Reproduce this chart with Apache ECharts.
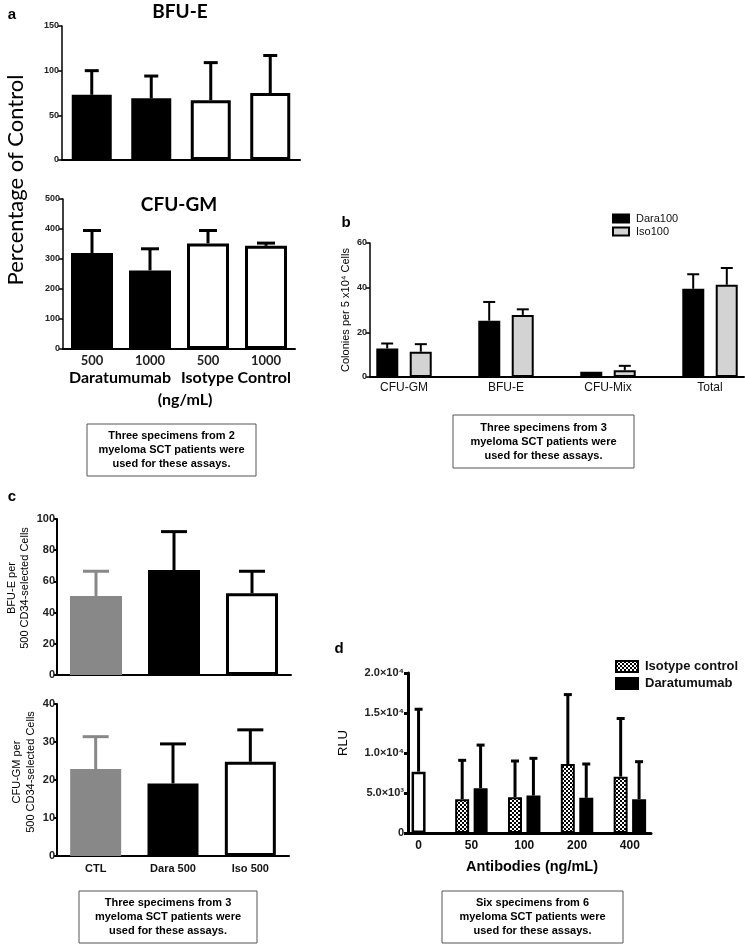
<!DOCTYPE html>
<html><head><meta charset="utf-8">
<script src="https://cdn.jsdelivr.net/npm/echarts@6/dist/echarts.min.js"></script>
<style>html,body{margin:0;padding:0;background:#fff}#c{width:745px;height:944px}</style>
</head><body><div id="c"></div>
<script>
// ---------- Panel a ----------
const aCats = ['500', '1000', '500', '1000'];
const aBfuMean = [73, 69, 67, 75];
const aBfuErr = [27, 25, 42, 42];
const aGmMean = [320, 262, 352, 344];
const aGmErr = [75, 72, 43, 9];
// ---------- Panel b ----------
const bCats = ['CFU-GM', 'BFU-E', 'CFU-Mix', 'Total'];
const bDaraMean = [12.8, 25.2, 2.4, 39.5];
const bDaraErr = [2.2, 8.4, 0, 6.5];
const bIsoMean = [11.3, 27.8, 3.0, 41.3];
const bIsoErr = [3.4, 2.5, 2.0, 7.5];
// ---------- Panel c ----------
const cCats = ['CTL', 'Dara 500', 'Iso 500'];
const cBfuMean = [50.6, 67.3, 52.4];
const cBfuErr = [15.9, 24.6, 14.1];
const cGmMean = [22.9, 19.1, 24.8];
const cGmErr = [8.5, 10.4, 8.4];
// ---------- Panel d ----------
const dCats = ['0', '50', '100', '200', '400'];
const dCtrlMean = [7670, null, null, null, null];
const dCtrlErr = [7800, null, null, null, null];
const dIsoMean = [null, 4230, 4480, 8625, 7045];
const dIsoErr = [null, 4855, 4520, 8675, 7265];
const dDaraMean = [null, 5600, 4680, 4395, 4230];
const dDaraErr = [null, 5390, 4655, 4230, 4685];
const dTickLabels = ['0', '5.0\u00d710\u00b3', '1.0\u00d710\u2074', '1.5\u00d710\u2074', '2.0\u00d710\u2074'];

const FA = 'Lato, "Open Sans", sans-serif';
const F = '"Liberation Sans", Arial, Helvetica, sans-serif';

// padded category helpers (blank slots keep the original spacing of the figure)
function padCats(cats, lead, step, total) {
  const out = new Array(total).fill('');
  cats.forEach((c, i) => { out[lead + i * step] = c; });
  return out;
}
function padVals(vals, lead, step, total) {
  const out = new Array(total).fill('-');
  vals.forEach((v, i) => { if (v != null) out[lead + i * step] = v; });
  return out;
}
function errPts(means, errs, lead, step) {
  const pts = [];
  means.forEach((m, i) => { if (m != null) pts.push([lead + i * step, m, errs[i]]); });
  return pts;
}

function errSeries(xi, yi, pts, offset, colors, lw, cap) {
  return {
    type: 'custom', xAxisIndex: xi, yAxisIndex: yi, z: 1, silent: true,
    data: pts, encode: { x: 0, y: 1 },
    renderItem: function (params, api) {
      const x = api.value(0), m = api.value(1), e = api.value(2);
      if (!e) return { type: 'group', children: [] };
      const p0 = api.coord([x, m]), p1 = api.coord([x, m + e]);
      const cx = p0[0] + offset;
      const col = colors[params.dataIndex] || colors[0];
      return {
        type: 'group', children: [
          { type: 'line', shape: { x1: cx, y1: p0[1], x2: cx, y2: p1[1] }, style: { stroke: col, lineWidth: lw } },
          { type: 'line', shape: { x1: cx - cap / 2, y1: p1[1], x2: cx + cap / 2, y2: p1[1] }, style: { stroke: col, lineWidth: lw } }
        ]
      };
    }
  };
}

function yAx(gi, min, max, interval, fs, lw, extra) {
  return Object.assign({
    type: 'value', gridIndex: gi, min: min, max: max, interval: interval,
    splitLine: { show: false },
    axisLine: { show: true, lineStyle: { color: '#000', width: lw } },
    axisTick: { show: true, length: 4, lineStyle: { color: '#000', width: lw } },
    axisLabel: { fontSize: fs, fontWeight: 'bold', fontFamily: F, color: '#222', margin: 3 }
  }, extra || {});
}
function xAx(gi, data, label, lw, extra) {
  return Object.assign({
    type: 'category', gridIndex: gi, data: data,
    axisLine: { show: true, lineStyle: { color: '#000', width: lw } },
    axisTick: { show: false },
    axisLabel: label
  }, extra || {});
}

const black = { color: '#000' };
const white = { color: '#fff', borderColor: '#000', borderWidth: 3 };

const pat = document.createElement('canvas');
pat.width = 4; pat.height = 4;
const pg = pat.getContext('2d');
pg.fillStyle = '#fff'; pg.fillRect(0, 0, 4, 4);
pg.fillStyle = '#000'; pg.fillRect(0, 0, 2, 2); pg.fillRect(2, 2, 2, 2);

const B_LEAD = 1, B_STEP = 3, B_TOT = 12;
const D_LEAD = 1, D_STEP = 5, D_TOT = 24;

function caption(cx, top, w, h, lines) {
  return {
    type: 'group', children: [
      { type: 'rect', shape: { x: cx - w / 2, y: top, width: w, height: h }, style: { fill: '#fff', stroke: '#555', lineWidth: 1 } },
      { type: 'text', x: cx, y: top + h / 2, style: { text: lines.join('\n'), font: 'bold 11px ' + F, fill: '#000', align: 'center', verticalAlign: 'middle', lineHeight: 14 } }
    ]
  };
}
function txt(x, y, text, font, opts) {
  return Object.assign({ type: 'text', x: x, y: y, style: { text: text, font: font, fill: '#000', align: 'center', verticalAlign: 'middle' } }, opts || {});
}
const R = Math.PI / 2;
const cTick = { fontSize: 11, fontWeight: 'bold', fontFamily: F, color: '#222', margin: 2 };

const option = {
  animation: false,
  backgroundColor: '#fff',
  grid: [
    { left: 62, top: 26, width: 238, height: 134, outerBoundsMode: 'none' },
    { left: 63, top: 199, width: 232, height: 150, outerBoundsMode: 'none' },
    { left: 370, top: 243, width: 374, height: 134, outerBoundsMode: 'none' },
    { left: 57, top: 519, width: 234, height: 156, outerBoundsMode: 'none' },
    { left: 57, top: 704, width: 232, height: 152, outerBoundsMode: 'none' },
    { left: 408, top: 673, width: 243, height: 160, outerBoundsMode: 'none' }
  ],
  xAxis: [
    xAx(0, aCats, { show: false }, 2),
    xAx(1, aCats, { fontSize: 13, fontWeight: 'bold', fontFamily: FA, color: '#222', margin: 5 }, 2),
    xAx(2, padCats(bCats, B_LEAD, B_STEP, B_TOT), { fontSize: 12, fontFamily: F, color: '#111', margin: 5, interval: 0 }, 2, { boundaryGap: false }),
    xAx(3, cCats, { show: false }, 2),
    xAx(4, cCats, { fontSize: 11, fontWeight: 'bold', fontFamily: F, color: '#111', margin: 7 }, 2),
    xAx(5, padCats(dCats, D_LEAD, D_STEP, D_TOT), { fontSize: 12, fontWeight: 'bold', fontFamily: F, color: '#111', margin: 7, interval: 0 }, 3, { boundaryGap: false }),
    xAx(5, padCats(dCats, D_LEAD, D_STEP, D_TOT), { show: false }, 3, { boundaryGap: false, axisLine: { show: false } })
  ],
  yAxis: [
    yAx(0, 0, 150, 50, 9, 1.5),
    yAx(1, 0, 500, 100, 9, 1.5),
    yAx(2, 0, 60, 20, 9, 1.5),
    yAx(3, 0, 100, 20, 11, 2, { axisTick: { show: true, length: 3, lineStyle: { color: '#000', width: 2 } }, axisLabel: cTick }),
    yAx(4, 0, 40, 10, 11, 2, { axisTick: { show: true, length: 3, lineStyle: { color: '#000', width: 2 } }, axisLabel: cTick }),
    yAx(5, 0, 20000, 5000, 11, 3, { axisLabel: { fontSize: 11, fontWeight: 'bold', fontFamily: F, color: '#222', margin: 4, formatter: function (v) { return dTickLabels[Math.round(v / 5000)]; } } })
  ],
  legend: [
    { data: ['Dara100', 'Iso100'], orient: 'vertical', left: 612, top: 213, itemWidth: 16, itemHeight: 8, itemGap: 2, icon: 'rect', selectedMode: false, padding: 0,
      textStyle: { fontSize: 11, fontFamily: F, color: '#111', padding: [0, 0, 0, 2] } },
    { data: ['Isotype control', 'Daratumumab'], orient: 'vertical', left: 615, top: 660, itemWidth: 22, itemHeight: 11, itemGap: 4, icon: 'rect', selectedMode: false, padding: 0,
      textStyle: { fontSize: 13, fontWeight: 'bold', fontFamily: F, color: '#111', padding: [0, 0, 0, 2] } }
  ],
  series: [
    // a top
    { type: 'bar', xAxisIndex: 0, yAxisIndex: 0, barWidth: 40, z: 2,
      data: aBfuMean.map((v, i) => ({ value: v, itemStyle: i < 2 ? black : white })) },
    errSeries(0, 0, aBfuMean.map((m, i) => [i, m, aBfuErr[i]]), 0, ['#000'], 3, 14),
    // a bottom
    { type: 'bar', xAxisIndex: 1, yAxisIndex: 1, barWidth: 42, z: 2,
      data: aGmMean.map((v, i) => ({ value: v, itemStyle: i < 2 ? black : white })) },
    errSeries(1, 1, aGmMean.map((m, i) => [i, m, aGmErr[i]]), 0, ['#000'], 3, 18),
    // b
    { name: 'Dara100', type: 'bar', xAxisIndex: 2, yAxisIndex: 2, barWidth: 22, barGap: '52%', z: 2,
      itemStyle: { color: '#000', borderColor: '#000', borderWidth: 2 },
      data: padVals(bDaraMean, B_LEAD, B_STEP, B_TOT) },
    { name: 'Iso100', type: 'bar', xAxisIndex: 2, yAxisIndex: 2, barWidth: 22, barGap: '52%', z: 2,
      itemStyle: { color: '#d3d3d3', borderColor: '#000', borderWidth: 2 },
      data: padVals(bIsoMean, B_LEAD, B_STEP, B_TOT) },
    errSeries(2, 2, errPts(bDaraMean, bDaraErr, B_LEAD, B_STEP), -16.8, ['#000'], 2, 12),
    errSeries(2, 2, errPts(bIsoMean, bIsoErr, B_LEAD, B_STEP), 16.8, ['#000'], 2, 12),
    // c top
    { type: 'bar', xAxisIndex: 3, yAxisIndex: 3, barWidth: 52, z: 2,
      data: cBfuMean.map((v, i) => ({ value: v, itemStyle: i === 0 ? { color: '#888' } : (i === 1 ? black : white) })) },
    errSeries(3, 3, cBfuMean.map((m, i) => [i, m, cBfuErr[i]]), 0, ['#888', '#000', '#000'], 3, 26),
    // c bottom
    { type: 'bar', xAxisIndex: 4, yAxisIndex: 4, barWidth: 51, z: 2,
      data: cGmMean.map((v, i) => ({ value: v, itemStyle: i === 0 ? { color: '#888' } : (i === 1 ? black : white) })) },
    errSeries(4, 4, cGmMean.map((m, i) => [i, m, cGmErr[i]]), 0, ['#888', '#000', '#000'], 3, 26),
    // d
    { name: 'Control', type: 'bar', xAxisIndex: 6, yAxisIndex: 5, barWidth: 14, z: 2,
      itemStyle: { color: '#fff', borderColor: '#000', borderWidth: 2.5 },
      data: padVals(dCtrlMean, D_LEAD, D_STEP, D_TOT) },
    { name: 'Isotype control', type: 'bar', xAxisIndex: 5, yAxisIndex: 5, barWidth: 14, barGap: '32%', z: 2,
      itemStyle: { color: { image: pat, repeat: 'repeat' }, borderColor: '#000', borderWidth: 2 },
      data: padVals(dIsoMean, D_LEAD, D_STEP, D_TOT) },
    { name: 'Daratumumab', type: 'bar', xAxisIndex: 5, yAxisIndex: 5, barWidth: 14, barGap: '32%', z: 2,
      itemStyle: { color: '#000', borderColor: '#000', borderWidth: 2 },
      data: padVals(dDaraMean, D_LEAD, D_STEP, D_TOT) },
    errSeries(6, 5, errPts(dCtrlMean, dCtrlErr, D_LEAD, D_STEP), 0, ['#000'], 3, 8),
    errSeries(5, 5, errPts(dIsoMean, dIsoErr, D_LEAD, D_STEP), -9.2, ['#000'], 3, 8),
    errSeries(5, 5, errPts(dDaraMean, dDaraErr, D_LEAD, D_STEP), 9.2, ['#000'], 3, 8)
  ],
  graphic: [
    txt(12, 15, 'a', 'bold 15px ' + F),
    txt(180, 12, 'BFU-E', 'bold 19px ' + FA),
    txt(179, 205, 'CFU-GM', 'bold 19px ' + FA),
    txt(16, 180, 'Percentage of Control', '22px ' + FA, { rotation: R }),
    txt(120, 378, 'Daratumumab', 'bold 16px ' + FA),
    txt(236, 378, 'Isotype Control', 'bold 16px ' + FA),
    txt(185, 400, '(ng/mL)', 'bold 16px ' + FA),
    caption(171.5, 424, 169, 52, ['Three specimens from 2', 'myeloma SCT patients were', 'used for these assays.']),

    txt(346, 223, 'b', 'bold 15px ' + F),
    txt(346, 310, 'Colonies per 5 x10\u2074 Cells', '11px ' + F, { rotation: R }),
    caption(543.5, 415, 181, 53, ['Three specimens from 3', 'myeloma SCT patients were', 'used for these assays.']),

    txt(12, 497, 'c', 'bold 15px ' + F),
    { type: 'text', x: 18, y: 588, rotation: R, style: { text: 'BFU-E per\n500 CD34-selected Cells', font: '11px ' + F, fill: '#000', align: 'center', verticalAlign: 'middle', lineHeight: 13 } },
    { type: 'text', x: 24, y: 772, rotation: R, style: { text: 'CFU-GM per\n500 CD34-selected Cells', font: '11px ' + F, fill: '#000', align: 'center', verticalAlign: 'middle', lineHeight: 14 } },
    caption(168, 891, 178, 52, ['Three specimens from 3', 'myeloma SCT patients were', 'used for these assays.']),

    txt(339, 649, 'd', 'bold 15px ' + F),
    txt(343, 743, 'RLU', '13px ' + F, { rotation: R }),
    txt(532, 867, 'Antibodies (ng/mL)', 'bold 14.5px ' + F),
    caption(532.5, 891, 181, 52, ['Six specimens from 6', 'myeloma SCT patients were', 'used for these assays.'])
  ]
};

const chart = echarts.init(document.getElementById('c'), null, { renderer: 'canvas', width: 745, height: 944 });
chart.setOption(option);
</script>
</body></html>
